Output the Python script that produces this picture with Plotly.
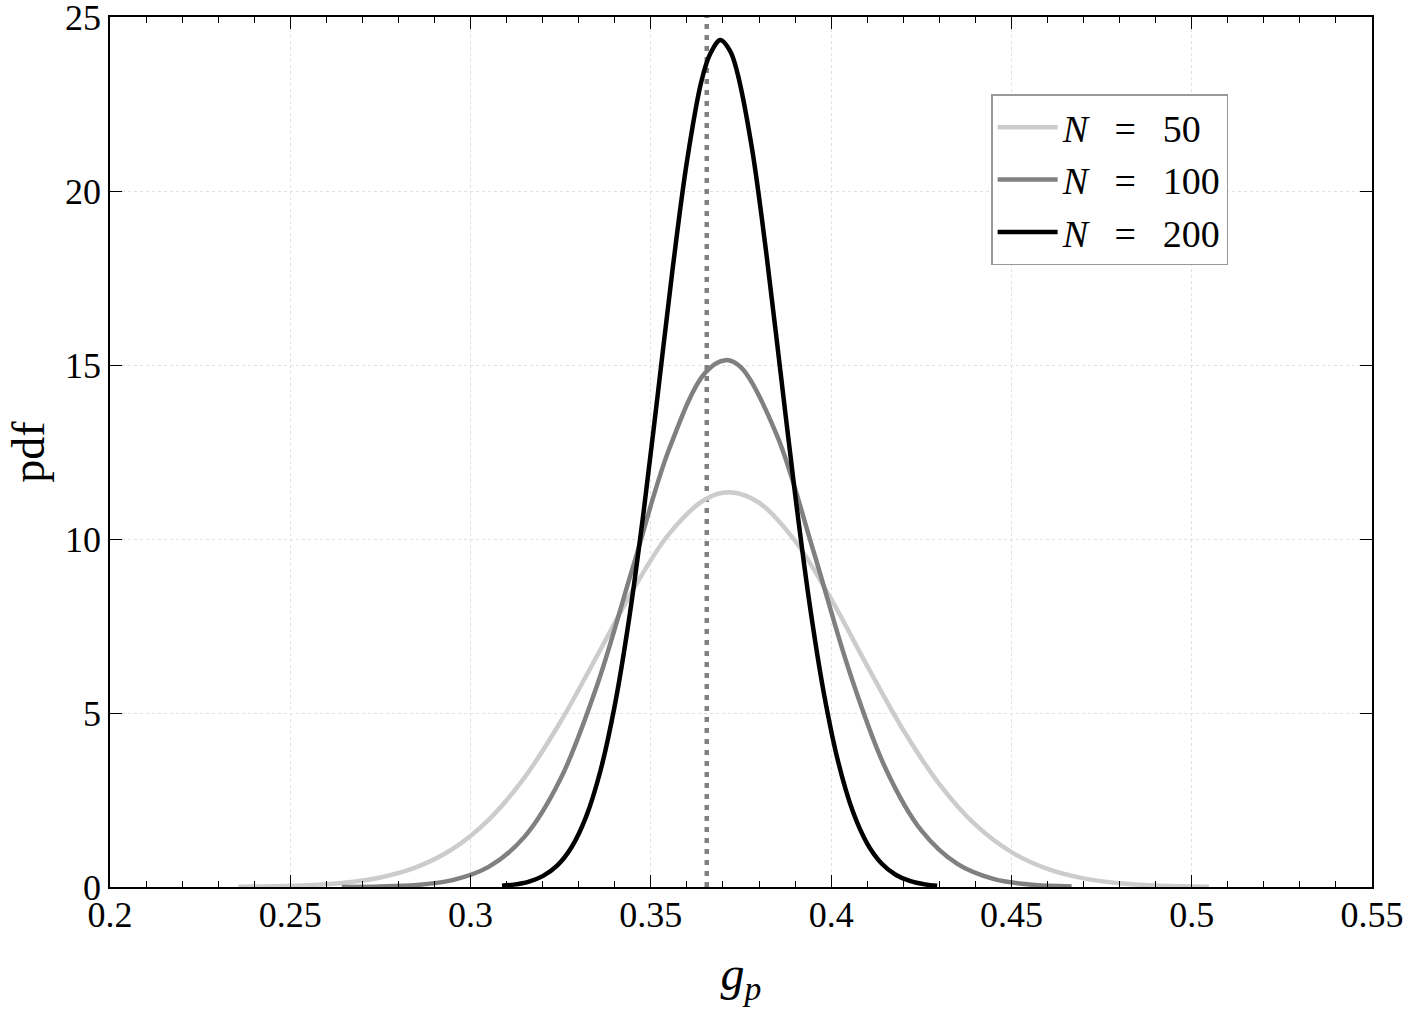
import plotly.graph_objects as go

# values
gp_50 = [0.2356, 0.245, 0.255, 0.265, 0.275, 0.285, 0.295, 0.305, 0.315, 0.325, 0.335, 0.345,
         0.355, 0.365, 0.3718, 0.380, 0.390, 0.400, 0.410, 0.420, 0.430, 0.440, 0.450, 0.460,
         0.470, 0.480, 0.490, 0.5048]
pdf_50 = [0.007, 0.019, 0.051, 0.123, 0.275, 0.571, 1.092, 1.930, 3.152, 4.756, 6.627, 8.528,
          10.139, 11.134, 11.34, 11.042, 9.944, 8.271, 6.356, 4.512, 2.959, 1.792, 1.002, 0.518,
          0.247, 0.109, 0.044, 0.010]

gp_100 = [0.2643, 0.275, 0.285, 0.295, 0.305, 0.315, 0.325, 0.335, 0.345, 0.355, 0.365, 0.3707,
          0.375, 0.385, 0.395, 0.405, 0.415, 0.425, 0.435, 0.445, 0.455, 0.4667]
pdf_100 = [0.003, 0.015, 0.058, 0.197, 0.577, 1.447, 3.116, 5.770, 9.183, 12.563, 14.772, 15.14,
           14.930, 12.969, 9.684, 6.214, 3.428, 1.625, 0.662, 0.232, 0.070, 0.014]

gp_200 = [0.3087, 0.312, 0.316, 0.320, 0.324, 0.328, 0.332, 0.336, 0.340, 0.344, 0.348, 0.352,
          0.356, 0.360, 0.364, 0.3665, 0.3693, 0.372, 0.374, 0.378, 0.382, 0.386, 0.390, 0.394,
          0.398, 0.402, 0.406, 0.410, 0.414, 0.418, 0.422, 0.426, 0.4294]
pdf_200 = [0.034, 0.068, 0.149, 0.312, 0.614, 1.143, 2.008, 3.334, 5.223, 7.726, 10.790, 14.232,
           17.727, 20.843, 23.145, 23.95, 24.34, 24.02, 23.395, 21.251, 18.226, 14.763, 11.291, 8.152,
           5.559, 3.578, 2.176, 1.249, 0.677, 0.346, 0.167, 0.076, 0.037]

ref_x = [0.3655, 0.3655]
ref_y = [0, 25]

sep = '\u2002\u2009=\u2009\u2002'
series = [
    ('<i>N</i>' + sep + '50', gp_50, pdf_50, '#cccccc'),
    ('<i>N</i>' + sep + '100', gp_100, pdf_100, '#808080'),
    ('<i>N</i>' + sep + '200', gp_200, pdf_200, '#000000'),
]

FONT = 'Liberation Serif'

fig = go.Figure()

fig.add_trace(go.Scatter(x=ref_x, y=ref_y, mode='lines', showlegend=False,
                         line=dict(color='#808080', width=4.5, dash='5px,6px')))

for name, xs, ys, col in series:
    fig.add_trace(go.Scatter(x=xs, y=ys, mode='lines', name=name,
                             line=dict(color=col, width=4.5, shape='spline')))

axis_common = dict(
    showline=True, linecolor='black', linewidth=1.5, mirror='ticks',
    ticks='inside', tickcolor='black', tickwidth=1.2,
    showgrid=True, gridcolor='#e0e0e0', gridwidth=1, griddash='dot',
    zeroline=False, tickfont=dict(family=FONT, size=36, color='black'),
    ticklabeloverflow='allow',
)

fig.update_xaxes(range=[0.2, 0.55], dtick=0.05, ticklen=12, ticklabelstandoff=-5,
                 minor=dict(dtick=0.01, ticks='inside', ticklen=6, tickcolor='black', showgrid=False),
                 title=dict(text='<i>g</i><sub><i>p</i></sub>', font=dict(family=FONT, size=48, color='black'),
                            standoff=22),
                 **axis_common)
fig.update_yaxes(range=[0, 25], dtick=5, ticklen=12,
                 title=dict(text='pdf', font=dict(family=FONT, size=46, color='black'), standoff=6),
                 **axis_common)

fig.update_layout(
    width=1405, height=1009,
    margin=dict(l=110, r=33, t=17, b=122, autoexpand=False),
    paper_bgcolor='white', plot_bgcolor='white',
    font=dict(family=FONT, color='black'),
    legend=dict(x=0.886, y=0.911, xanchor='right', yanchor='top',
                bgcolor='white', bordercolor='#999999', borderwidth=1.5,
                font=dict(family=FONT, size=38, color='black'), itemwidth=60),
)

fig.write_html("out.html", config={'displayModeBar': False},
               post_script="document.body.style.margin='0';")
